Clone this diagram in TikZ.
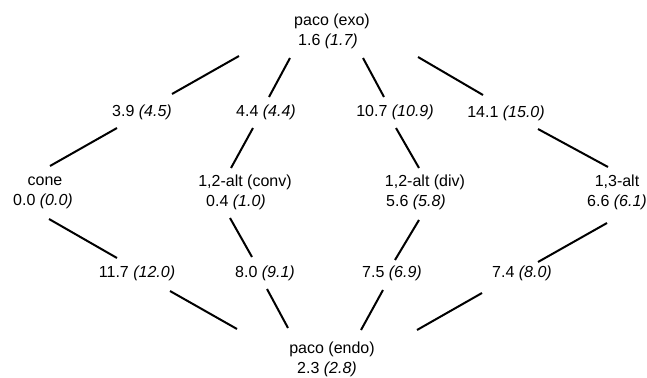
\documentclass[tikz,border=0pt]{standalone}
\usepackage{fontspec}
\setmainfont{Liberation Sans}
\usetikzlibrary{calc}
\begin{document}
\begin{tikzpicture}[x=1pt,y=-1pt,
  txt/.style={inner sep=0pt,font=\fontsize{16}{20}\selectfont,align=center},
  link/.style={line width=2pt,black}]
\useasboundingbox (0,0) rectangle (647,377);
% states
\node[txt] (exo)   at (332,31.5) {paco (exo)\\\hspace*{-8pt}1.6 \textit{(1.7)}};
\node[txt] (cone)  at (45,192.5) {cone\\\hspace*{-4pt}0.0 \textit{(0.0)}};
\node[txt] (conv)  at (245,192.5) {1,2-alt (conv)\\\hspace*{-18pt}0.4 \textit{(1.0)}};
\node[txt] (div)   at (425,192.5) {1,2-alt (div)\\\hspace*{-18pt}5.6 \textit{(5.8)}};
\node[txt] (alt13) at (617,192.5) {1,3-alt\\6.6 \textit{(6.1)}};
\node[txt] (endo)  at (332,359) {paco (endo)\\\hspace*{-10pt}2.3 \textit{(2.8)}};
% barriers
\node[txt] (l39)  at (142,112) {3.9 \textit{(4.5)}};
\node[txt] (l44)  at (266,112) {4.4 \textit{(4.4)}};
\node[txt] (l107) at (395,112) {10.7 \textit{(10.9)}};
\node[txt] (l141) at (506,113) {14.1 \textit{(15.0)}};
\node[txt] (l117) at (137,273) {11.7 \textit{(12.0)}};
\node[txt] (l80)  at (265,273) {8.0 \textit{(9.1)}};
\node[txt] (l75)  at (392,273) {7.5 \textit{(6.9)}};
\node[txt] (l74)  at (522,273) {7.4 \textit{(8.0)}};
% connectors
\draw[link] ($(exo)+(-93,24.5)$) -- ($(l39)+(30,-18)$);
\draw[link] ($(exo)+(-42,26.5)$) -- ($(l44)+(3,-15)$);
\draw[link] ($(exo)+(31,26.5)$) -- ($(l107)+(-11,-15)$);
\draw[link] ($(exo)+(86,25.5)$) -- ($(l141)+(-23,-18)$);
\draw[link] ($(l39)+(-25,16)$) -- ($(cone)+(5,-26.5)$);
\draw[link] ($(l44)+(-13,16)$) -- ($(conv)+(-14,-24.5)$);
\draw[link] ($(l107)+(1,16)$) -- ($(div)+(-6,-24.5)$);
\draw[link] ($(l141)+(32,16)$) -- ($(alt13)+(-9,-25.5)$);
\draw[link] ($(cone)+(4,26.5)$) -- ($(l117)+(-20,-15)$);
\draw[link] ($(conv)+(-15,25.5)$) -- ($(l80)+(-13,-16)$);
\draw[link] ($(div)+(-6,27.5)$) -- ($(l75)+(3,-13)$);
\draw[link] ($(alt13)+(-10,30.5)$) -- ($(l74)+(16,-11)$);
\draw[link] ($(l117)+(33,18)$) -- ($(endo)+(-95,-30)$);
\draw[link] ($(l80)+(2,16)$) -- ($(endo)+(-44,-31)$);
\draw[link] ($(l75)+(-9,17)$) -- ($(endo)+(29,-29)$);
\draw[link] ($(l74)+(-40,20)$) -- ($(endo)+(85,-29)$);
\end{tikzpicture}
\end{document}
